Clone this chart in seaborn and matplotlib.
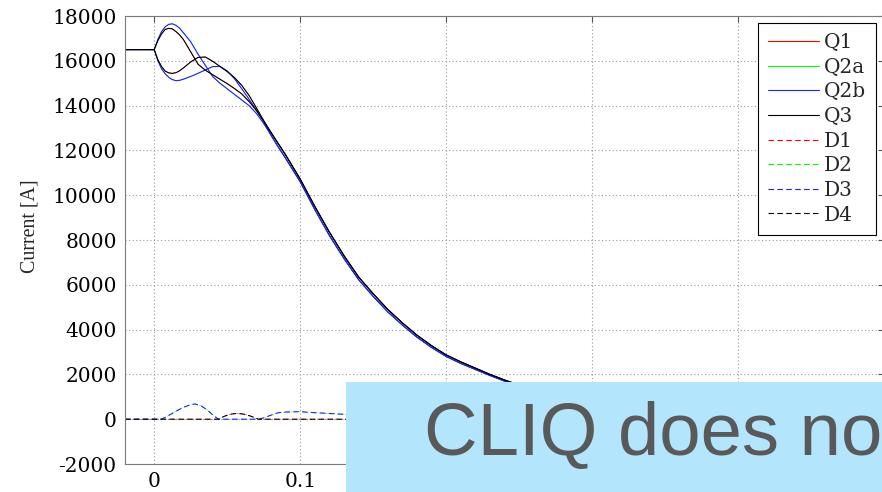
import numpy as np
import pandas as pd
import matplotlib
matplotlib.use("Agg")
import matplotlib.pyplot as plt
from matplotlib.lines import Line2D
from matplotlib.patches import Rectangle
import seaborn as sns

# ---------------- data ----------------
t_q = [-0.02, 0.0, 0.0025, 0.005, 0.0075, 0.01, 0.0125, 0.015, 0.0175, 0.02,
       0.025, 0.03, 0.035, 0.04, 0.045, 0.05, 0.055, 0.06, 0.065, 0.07,
       0.075, 0.08, 0.085, 0.09, 0.10, 0.11, 0.12, 0.13, 0.14, 0.15,
       0.16, 0.17, 0.18, 0.19, 0.20, 0.21, 0.22, 0.23, 0.24, 0.26,
       0.28, 0.30, 0.35, 0.40, 0.45, 0.50]

# Q3 (black), two apertures
q3_a = [16500, 16500, 16900, 17200, 17400, 17450, 17420, 17300, 17150, 16950,
        16400, 15850, 15580, 15380, 15180, 14980, 14760, 14520, 14180, 13780,
        13300, 12800, 12300, 11800, 10720, 9500, 8350, 7300, 6350, 5600,
        4900, 4300, 3750, 3280, 2870, 2560, 2280, 2000, 1750, 1300,
        1000, 780, 400, 200, 100, 50]
q3_b = [16500, 16500, 16050, 15750, 15540, 15460, 15440, 15470, 15560, 15680,
        15950, 16150, 16170, 15980, 15750, 15520, 15250, 14900, 14450, 13900,
        13330, 12800, 12300, 11800, 10720, 9500, 8350, 7300, 6350, 5600,
        4900, 4300, 3750, 3280, 2870, 2560, 2280, 2000, 1750, 1300,
        1000, 780, 400, 200, 100, 50]
# Q2b (blue), two apertures
q2b_a = [16500, 16500, 16950, 17300, 17520, 17630, 17650, 17580, 17450, 17250,
         16850, 16300, 15800, 15300, 15000, 14750, 14500, 14250, 14000, 13650,
         13200, 12680, 12150, 11650, 10600, 9360, 8200, 7170, 6230, 5480,
         4790, 4200, 3660, 3200, 2800, 2490, 2220, 1950, 1700, 1270,
         980, 760, 390, 190, 95, 45]
q2b_b = [16500, 16500, 16000, 15650, 15420, 15260, 15160, 15110, 15130, 15180,
         15300, 15440, 15590, 15740, 15750, 15550, 15200, 14750, 14280, 13800,
         13300, 12680, 12150, 11650, 10600, 9360, 8200, 7170, 6230, 5480,
         4790, 4200, 3660, 3200, 2800, 2490, 2220, 1950, 1700, 1270,
         980, 760, 390, 190, 95, 45]
# Q1 and Q2a lie exactly under Q3 and Q2b in the reference
q1_a, q1_b = q3_a, q3_b
q2a_a, q2a_b = q2b_a, q2b_b

# dashed currents
t_d3 = [-0.02, 0.0, 0.005, 0.01, 0.015, 0.02, 0.025, 0.028, 0.032, 0.036,
        0.04, 0.044, 0.05, 0.06, 0.0715, 0.075, 0.08, 0.085, 0.09, 0.10,
        0.11, 0.12, 0.13, 0.15, 0.20, 0.25, 0.30, 0.40, 0.50]
d3 = [0, 0, 0, 170, 360, 530, 650, 680, 600, 430,
      200, 0, 0, 0, 0, 60, 180, 290, 320, 335,
      290, 255, 220, 180, 110, 60, 30, 10, 0]
t_d4 = [-0.02, 0.0, 0.044, 0.048, 0.052, 0.0565, 0.061, 0.066, 0.0715, 0.10,
        0.20, 0.30, 0.40, 0.50]
d4 = [0, 0, 0, 130, 220, 260, 230, 140, 0, 0,
      0, 0, 0, 0]
# D1 and D2 lie under D4 and D3
t_d1, d1 = t_d4, d4
t_d2, d2 = t_d3, d3

legend_labels = ["Q1", "Q2a", "Q2b", "Q3", "D1", "D2", "D3", "D4"]
y_ticks = [-2000, 0, 2000, 4000, 6000, 8000, 10000, 12000, 14000, 16000, 18000]
x_ticks = [0, 0.1, 0.2, 0.3, 0.4]
x_ticklabels = ["0", "0.1", "0.2", "0.3", "0.4"]

# ---------------- styling ----------------
sns.set_style("white")
plt.rcParams["font.family"] = ["DejaVu Serif", "DejaVu Sans"]

RED, GREEN, BLUE, BLACK = "#ff0000", "#00ff00", "#2020ff", "#000000"
DASH = (0, (5, 3))
LW = 0.8
# (label, colour, linestyle, drawn width, time, apertures)
series = [
    ("Q1", RED, "-", 0.35, t_q, [q1_a, q1_b]),
    ("Q2a", GREEN, "-", 0.35, t_q, [q2a_a, q2a_b]),
    ("Q2b", BLUE, "-", LW, t_q, [q2b_a, q2b_b]),
    ("Q3", BLACK, "-", LW, t_q, [q3_a, q3_b]),
    ("D1", RED, DASH, 0.35, t_d1, [d1]),
    ("D2", GREEN, DASH, 0.35, t_d2, [d2]),
    ("D3", BLUE, DASH, LW, t_d3, [d3]),
    ("D4", BLACK, DASH, LW, t_d4, [d4]),
]

W, H = 882, 492
fig = plt.figure(figsize=(W / 100, H / 100), dpi=100)
AX_L, AX_B, AX_W, AX_H = 125, 28, 759.2, 448
ax = fig.add_axes([AX_L / W, AX_B / H, AX_W / W, AX_H / H])

handles = []
for name, color, ls, lw, t, aps in series:
    frames = []
    for k, vals in enumerate(aps):
        frames.append(pd.DataFrame({"t": t, "I": vals, "ap": k}))
    df = pd.concat(frames, ignore_index=True)
    sns.lineplot(data=df, x="t", y="I", units="ap", estimator=None, sort=False,
                 color=color, linestyle=ls, linewidth=lw, ax=ax, legend=False)
    handles.append(Line2D([0], [0], color=color, linestyle=ls, linewidth=LW))

ax.set_xlim(-0.02, 0.5)
ax.set_ylim(-2000, 18000)
ax.set_yticks(y_ticks)
ax.set_yticklabels([str(v) for v in y_ticks])
ax.set_xticks(x_ticks)
ax.set_xticklabels(x_ticklabels)
ax.set_xlabel("")

ax.grid(True, linestyle=(0, (1, 2.2)), color="#9a9a9a", linewidth=0.8)
for s in ax.spines.values():
    s.set_color("#7a7a7a")
    s.set_linewidth(0.8)
ax.tick_params(direction="in", length=4.5, width=0.8, color="#555555",
               top=True, right=True, labelsize=14.5, pad=6, labelcolor="black")

# y label: sized to span ~94 px, centred at y=226 px, right edge near x=40
ylab = ax.set_ylabel("Current [A]", family=["Liberation Serif"], fontsize=14)
ax.yaxis.set_label_coords(-0.112, 0.53)
fig.canvas.draw()
bb = ylab.get_window_extent()
ylab.set_fontsize(14 * 94.0 / bb.height)
fig.canvas.draw()
bb = ylab.get_window_extent()
dx = (40 - bb.x1) / AX_W
dy = ((H - 226) - (bb.y0 + bb.y1) / 2) / AX_H
ax.yaxis.set_label_coords(-0.112 + dx, 0.53 + dy)

leg = ax.legend(handles, legend_labels, loc="upper right",
                bbox_to_anchor=(876 / W, (H - 23) / H), bbox_transform=fig.transFigure,
                frameon=True, fancybox=False, framealpha=1, edgecolor="black",
                borderaxespad=0, prop={"family": "DejaVu Serif", "size": 14.5},
                handlelength=2.5, handletextpad=0.25, labelspacing=0.28,
                borderpad=0.5)
leg.get_frame().set_linewidth(0.8)

# overlay banner (part of the slide)
fig.patches.append(Rectangle((346 / W, 0), (W - 346) / W, (H - 382) / H,
                             transform=fig.transFigure, facecolor="#b3e5fc",
                             edgecolor="none", zorder=10))
fig.text(424 / W, (H - 455) / H, "CLIQ does no", family=["Liberation Sans"],
         fontsize=53.5, color="#595959", ha="left", va="baseline", zorder=11)

fig.savefig("out.png", dpi=100)
